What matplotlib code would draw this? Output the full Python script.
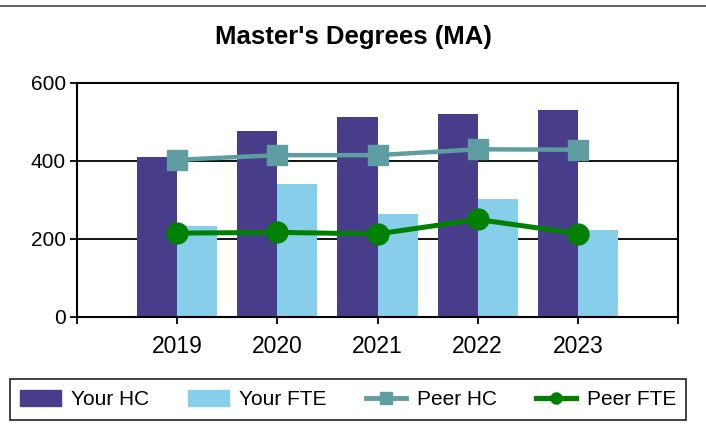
import matplotlib
matplotlib.use("Agg")
import matplotlib.pyplot as plt
from matplotlib.lines import Line2D
from matplotlib.patches import Patch

plt.rcParams['font.family'] = ['Liberation Sans', 'DejaVu Sans']

years = ["2019", "2020", "2021", "2022", "2023"]
your_hc = [410, 476, 514, 520, 531]
your_fte = [233, 341, 264, 302, 223]
peer_hc = [403, 415, 415, 430, 429]
peer_fte = [215, 217, 213, 250, 214]
yticks = [0, 200, 400, 600]

c_hc = "#483D8B"
c_fte = "#87CEEB"
c_phc = "#5F9EA0"
c_pfte = "#008000"

fig = plt.figure(figsize=(7.06, 4.24), dpi=100)
ax = fig.add_axes([77/706, 1-317/424, 601/706, 234/424])

x = list(range(1, len(years)+1))
w = 0.4
ax.bar([i - w/2 for i in x], your_hc, width=w, color=c_hc, zorder=2)
ax.bar([i + w/2 for i in x], your_fte, width=w, color=c_fte, zorder=2)
ax.plot(x, peer_hc, color=c_phc, lw=3.2, marker='s', ms=14, zorder=4)
ax.plot(x, peer_fte, color=c_pfte, lw=3.6, marker='o', ms=15, zorder=4)

ax.set_xlim(0, 6)
ax.set_ylim(0, 600)
ax.set_yticks(yticks)
ax.set_yticklabels([str(v) for v in yticks], fontsize=15)
ax.set_xticks(range(0, 7))
ax.set_xticklabels([""] + years + [""], fontsize=16.5)
for v in [200, 400]:
    ax.axhline(v, color='black', lw=1.3, zorder=1)
for s in ax.spines.values():
    s.set_linewidth(1.5)
    s.set_color('black')
ax.tick_params(axis='both', length=5, width=1.3, direction='out', pad=3)
ax.tick_params(axis='x', pad=8)

fig.text(0.5, 1-37/424, "Master's Degrees (MA)", ha='center', va='center',
         fontsize=18.5, fontweight='bold')

# top line
fig.add_artist(Line2D([0, 1], [1-6/424, 1-6/424], color='#444444', lw=1.2))

handles = [
    Patch(facecolor=c_hc, edgecolor=c_hc),
    Patch(facecolor=c_fte, edgecolor=c_fte),
    Line2D([], [], color=c_phc, lw=3.5, marker='s', ms=9),
    Line2D([], [], color=c_pfte, lw=3.8, marker='o', ms=8),
]
labels = ["Your HC", "Your FTE", "Peer HC", "Peer FTE"]
leg = fig.legend(handles, labels, loc='center', bbox_to_anchor=(348/706, 1-399.5/424),
                 ncol=4, fontsize=15, frameon=True, fancybox=False,
                 edgecolor='black', handlelength=1.95, handleheight=0.85,
                 columnspacing=1.87, borderpad=0.5, handletextpad=0.5,
                 borderaxespad=0)
leg.get_frame().set_linewidth(1.3)

fig.savefig("out.png", dpi=100)
